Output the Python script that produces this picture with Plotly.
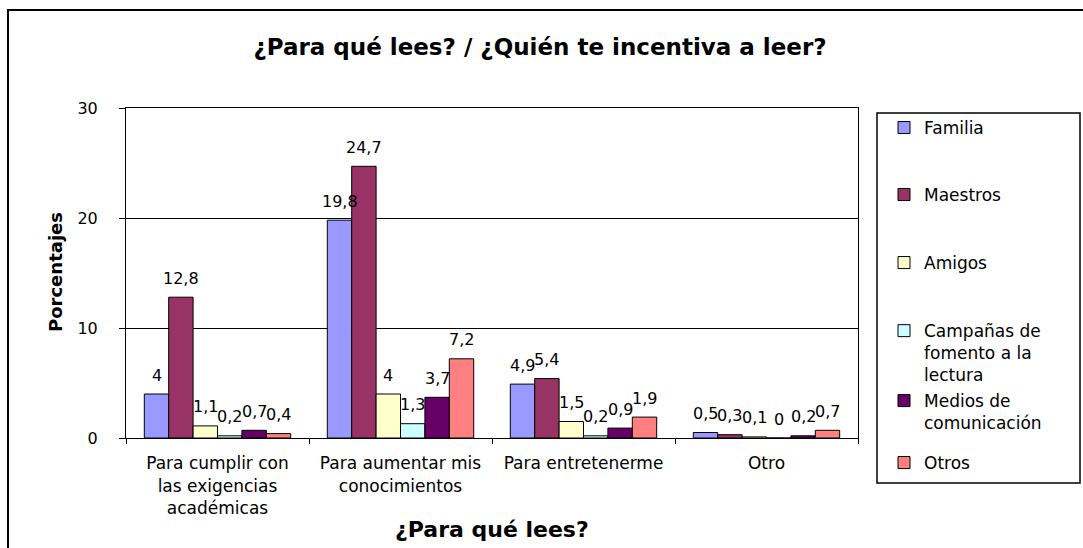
import plotly.graph_objects as go

# --- data -------------------------------------------------------------
categories = [
    "Para cumplir con<br>las exigencias<br>académicas",
    "Para aumentar mis<br>conocimientos",
    "Para entretenerme",
    "Otro",
]
series_names = [
    "Familia",
    "Maestros",
    "Amigos",
    "Campañas de<br>fomento a la<br>lectura",
    "Medios de<br>comunicación",
    "Otros",
]
familia = [4, 19.8, 4.9, 0.5]
maestros = [12.8, 24.7, 5.4, 0.3]
amigos = [1.1, 4, 1.5, 0.1]
campanas = [0.2, 1.3, 0.2, 0]
medios = [0.7, 3.7, 0.9, 0.2]
otros = [0.4, 7.2, 1.9, 0.7]
y_ticks = [0, 10, 20, 30]

series_values = [familia, maestros, amigos, campanas, medios, otros]
colors = ["#9999FF", "#993366", "#FFFFCC", "#CCFFFF", "#660066", "#FF8080"]

# --- geometry (pixels) ------------------------------------------------
W, H = 1083, 548
PL, PR, PT, PB = 126, 858, 108, 438
BARGAP = 0.2


def px(x):
    return (x - PL) / (PR - PL)


def py(y):
    return (PB - y) / (PB - PT)


def fmt(v):
    return f"{v:g}".replace(".", ",")


FONT = "DejaVu Sans"
LABEL_FONT = dict(family=FONT, size=16, color="black")
legend_names = ["legend", "legend2", "legend3", "legend4", "legend5", "legend6"]
# row of the first text line of each legend entry, and its line count
legend_rows = [128, 195, 263, 331, 401, 463]
legend_lines = [1, 1, 1, 3, 2, 1]
LEG_FS = 17
line_h = LEG_FS * 1.3

fig = go.Figure()
n = len(series_values)
slot = (1 - BARGAP) / n
annotations = []
for i, (name, vals, col) in enumerate(zip(series_names, series_values, colors)):
    fig.add_trace(go.Bar(
        name=name,
        x=categories,
        y=vals,
        marker=dict(color=col, line=dict(color="black", width=1)),
        legend=legend_names[i],
        showlegend=True,
        hoverinfo="skip",
    ))
    # value labels centred over each bar
    for j, v in enumerate(vals):
        annotations.append(dict(
            x=j + (i - (n - 1) / 2) * slot,
            y=v,
            xref="x", yref="y",
            text=fmt(v),
            showarrow=False,
            yanchor="middle",
            yshift=19,
            font=LABEL_FONT,
        ))

# axis titles
annotations.append(dict(
    text="<b>Porcentajes</b>", x=px(55), y=py(272), xref="paper", yref="paper",
    textangle=-90, showarrow=False, xanchor="center", yanchor="middle",
    font=dict(family=FONT, size=18, color="black"),
))
annotations.append(dict(
    text="<b>¿Para qué lees?</b>", x=px(492), y=py(529), xref="paper", yref="paper",
    showarrow=False, xanchor="center", yanchor="middle",
    font=dict(family=FONT, size=22, color="black"),
))

layout_legends = {}
for i, lname in enumerate(legend_names):
    centre = legend_rows[i] + (legend_lines[i] - 1) * line_h / 2
    layout_legends[lname] = dict(
        x=px(884), xanchor="left",
        y=py(centre), yanchor="middle",
        bgcolor="rgba(0,0,0,0)",
        borderwidth=0,
        valign="top",
        visible=True,
        font=dict(family=FONT, size=LEG_FS, color="black"),
    )

shapes = [
    # outer chart frame
    dict(type="rect", xref="paper", yref="paper",
         x0=px(8), x1=px(1100), y0=py(570), y1=py(10),
         line=dict(color="black", width=2), fillcolor="rgba(0,0,0,0)", layer="below"),
    # legend frame
    dict(type="rect", xref="paper", yref="paper",
         x0=px(877), x1=px(1080), y0=py(483), y1=py(113),
         line=dict(color="black", width=1.5), fillcolor="rgba(0,0,0,0)"),
]

fig.update_layout(
    width=W, height=H,
    margin=dict(l=PL, r=W - PR, t=PT, b=H - PB, autoexpand=False),
    paper_bgcolor="white", plot_bgcolor="white",
    showlegend=True,
    barmode="group", bargap=BARGAP, bargroupgap=0,
    title=dict(
        text="<b>¿Para qué lees? / ¿Quién te incentiva a leer?</b>",
        x=540 / W, xanchor="center", y=1 - 47 / H, yanchor="middle",
        font=dict(family=FONT, size=23, color="black"),
    ),
    xaxis=dict(
        type="category", tickson="boundaries", ticks="outside", ticklen=5,
        tickcolor="black", tickwidth=1,
        showline=True, linecolor="black", linewidth=1, mirror=True,
        showgrid=False,
        tickfont=dict(family=FONT, size=17, color="black"),
        ticklabelstandoff=10,
    ),
    yaxis=dict(
        range=[0, 30], tickvals=y_ticks, ticks="outside", ticklen=6,
        tickcolor="black", tickwidth=1,
        showline=True, linecolor="black", linewidth=1, mirror=True,
        showgrid=True, gridcolor="black", gridwidth=1, zeroline=False,
        tickfont=dict(family=FONT, size=16, color="black"),
        ticklabelstandoff=18,
    ),
    annotations=annotations,
    shapes=shapes,
    **layout_legends,
)

fig.write_html("out.html")
